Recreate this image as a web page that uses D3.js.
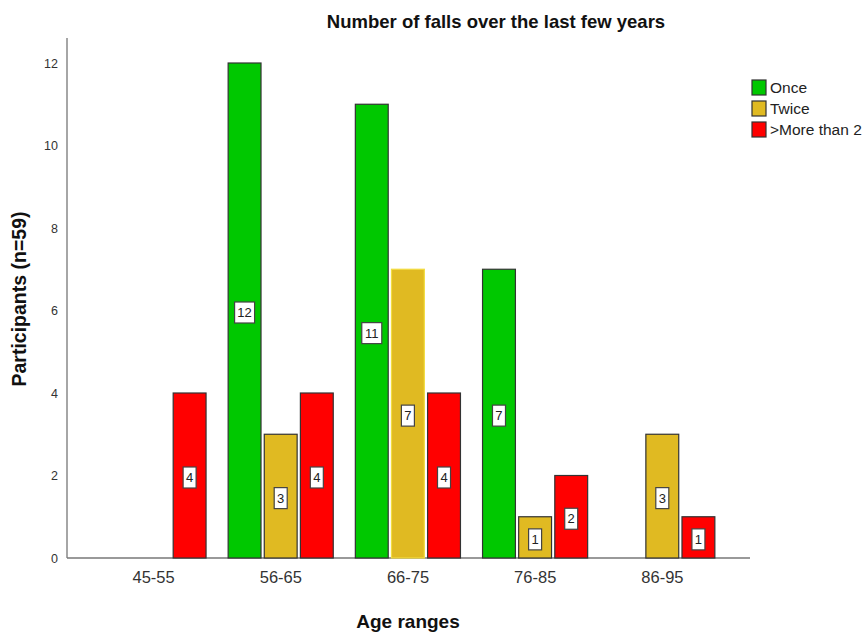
<!DOCTYPE html>
<html><head><meta charset="utf-8">
<script src="https://cdn.jsdelivr.net/npm/d3@7"></script>
<style>body{margin:0;background:#fff;} svg{display:block;font-family:"Liberation Sans",Arial,sans-serif;}</style>
</head><body>
<svg id="c" width="863" height="632"></svg>
<script>
const categories = ["45-55","56-65","66-75","76-85","86-95"];
const seriesNames = ["Once","Twice",">More than 2"];
const once =  [0,12,11,7,0];
const twice = [0,3,7,1,3];
const more2 = [4,4,4,2,1];
const yTicks = [0,2,4,6,8,10,12];
const colors = ["#00c800","#e0ba22","#ff0000"];

const svg = d3.select("#c");
const x0 = d3.scaleBand().domain(categories).range([90,726]).padding(0);
const x1 = d3.scaleBand().domain(seriesNames).range([9.5,117.5]).paddingInner(0.09).paddingOuter(0.04);
const y = d3.scaleLinear().domain([0,12]).range([558,63]);

const vals = [once,twice,more2];
const data = [];
categories.forEach((c,i)=>seriesNames.forEach((s,j)=>{ if(vals[j][i]>0) data.push({c,s,j,v:vals[j][i]}); }));

// axes
svg.append("line").attr("x1",67).attr("x2",67).attr("y1",38).attr("y2",558).attr("stroke","#888").attr("stroke-width",1.5);
svg.append("line").attr("x1",67).attr("x2",750).attr("y1",558).attr("y2",558).attr("stroke","#777").attr("stroke-width",1.5);

const yAxis = d3.axisLeft(y).tickValues(yTicks).tickSize(0).tickPadding(8);
const ga = svg.append("g").attr("transform","translate(66,0)").call(yAxis);
ga.select(".domain").remove();
ga.selectAll("text").attr("font-size",12.5).attr("fill","#333").attr("font-family","Liberation Sans, Arial");

const xAxis = d3.axisBottom(x0).tickSize(0).tickPadding(13);
const gx = svg.append("g").attr("transform","translate(0,558)").call(xAxis);
gx.select(".domain").remove();
gx.selectAll("text").attr("font-size",16.5).attr("fill","#333").attr("font-family","Liberation Sans, Arial");

// bars
svg.selectAll("rect.bar").data(data).enter().append("rect").attr("class","bar")
  .attr("x",d=>x0(d.c)+x1(d.s)).attr("width",x1.bandwidth())
  .attr("y",d=>y(d.v)).attr("height",d=>y(0)-y(d.v))
  .attr("fill",d=>colors[d.j])
  .attr("stroke",d=>(d.j===1&&d.c==="66-75")?"#f2dc40":"#333")
  .attr("stroke-width",1.2);

// labels
const lg = svg.selectAll("g.lab").data(data).enter().append("g").attr("class","lab")
  .attr("transform",d=>`translate(${x0(d.c)+x1(d.s)+x1.bandwidth()/2},${(y(d.v)+y(0))/2+2})`);
lg.append("rect").attr("x",d=>String(d.v).length>1?-10:-6.5).attr("width",d=>String(d.v).length>1?20:13)
  .attr("y",-10.5).attr("height",21).attr("fill","#fff").attr("stroke","#444").attr("stroke-width",1.2);
lg.append("text").attr("text-anchor","middle").attr("dy","0.36em").attr("font-size",13).attr("fill","#222")
  .attr("font-family","Liberation Sans, Arial").text(d=>d.v);

// titles
svg.append("text").attr("x",496).attr("y",28).attr("text-anchor","middle").attr("font-size",18.5).attr("font-weight","bold").attr("fill","#111").text("Number of falls over the last few years");
svg.append("text").attr("transform","translate(26,299) rotate(-90)").attr("text-anchor","middle").attr("font-size",19.5).attr("font-weight","bold").attr("fill","#111").text("Participants (n=59)");
svg.append("text").attr("x",408).attr("y",628).attr("text-anchor","middle").attr("font-size",19).attr("font-weight","bold").attr("fill","#111").text("Age ranges");

// legend
const leg = svg.selectAll("g.leg").data(seriesNames).enter().append("g").attr("class","leg")
  .attr("transform",(d,i)=>`translate(752,${80+i*21})`);
leg.append("rect").attr("width",14).attr("height",15).attr("fill",(d,i)=>colors[i]).attr("stroke","#333").attr("stroke-width",1.2);
leg.append("text").attr("x",18).attr("y",13).attr("font-size",15.5).attr("fill","#222").attr("font-family","Liberation Sans, Arial").text(d=>d);
</script>
</body></html>
